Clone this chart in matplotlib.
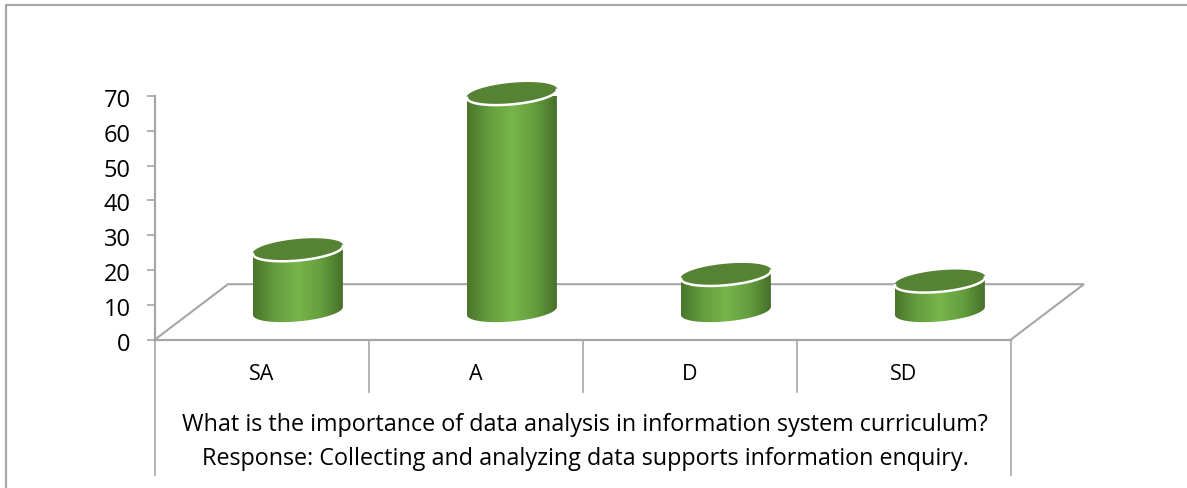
import numpy as np
import matplotlib
matplotlib.use('Agg')
import matplotlib.pyplot as plt
from matplotlib.colors import LinearSegmentedColormap
from matplotlib.lines import Line2D
from matplotlib.patches import PathPatch
from matplotlib.path import Path
from matplotlib.transforms import ScaledTranslation

plt.rcParams['font.family'] = ['Open Sans', 'DejaVu Sans']

# Data
categories = ['SA', 'A', 'D', 'SD']
values = [17.5, 62.4, 10.4, 8.5]
y_ticks = [0, 10, 20, 30, 40, 50, 60, 70]
title_lines = ['What is the importance of data analysis in information system curriculum?',
               'Response: Collecting and analyzing data supports information enquiry.']

W, H = 1187, 488
GREY = '#a6a6a6'

fig = plt.figure(figsize=(W / 100, H / 100), dpi=100)
# axes box is the front floor edge and the value axis
ax = fig.add_axes([155 / W, (H - 339.5) / H, (1011 - 155) / W, 243.5 / H])
ax.set_xlim(0, 4)
ax.set_ylim(0, 70)

# outer frame, only top and left are visible
fig.add_artist(Line2D([6 / W, 6 / W, 1], [0, (H - 5) / H, (H - 5) / H], color=GREY, lw=1.6))

# floor in pseudo 3d
floor_dx = 0.341
floor_dy = 15.9
ax.plot([0, floor_dx, 4 + floor_dx, 4], [0, floor_dy, floor_dy, 0],
        color=GREY, lw=1.5, clip_on=False, zorder=1, solid_joinstyle='miter')

# cylinders
cmap = LinearSegmentedColormap.from_list('cyl', ['#4a752b', '#659f3f', '#78b54a', '#659f3f', '#47702a'])
grad = np.linspace(0, 1, 256).reshape(1, -1)
half_w = 0.21
tilt = 1.15
minor = 3.0
base = 8.2
offset = 0.668


def ring(cx, cy, t):
    return np.column_stack([cx + half_w * np.cos(t), cy + tilt * np.cos(t) + minor * np.sin(t)])


for i, v in enumerate(values):
    cx = i + offset
    top = base + v
    lower = np.linspace(np.pi, 2 * np.pi, 60)
    body = np.vstack([ring(cx, top, lower), ring(cx, base, lower[::-1])])
    clip = PathPatch(Path(np.vstack([body, body[:1]])), transform=ax.transData, fc='none', ec='none')
    ax.add_patch(clip)
    im = ax.imshow(grad, cmap=cmap, extent=[cx - half_w, cx + half_w, base - 5, top + 5],
                   aspect='auto', zorder=3, clip_on=True)
    im.set_clip_path(clip)
    cap = ring(cx, top, np.linspace(0, 2 * np.pi, 120))
    ax.fill(cap[:, 0], cap[:, 1], color='#568233', zorder=4, clip_on=False)
    rim = ring(cx, top, lower)
    ax.plot(rim[:, 0], rim[:, 1], color='white', lw=1.8, zorder=5, clip_on=False)

ax.set_xlim(0, 4)
ax.set_ylim(0, 70)
ax.set_aspect('auto')

# axes styling
for side in ['top', 'right']:
    ax.spines[side].set_visible(False)
ax.spines['left'].set_color(GREY)
ax.spines['left'].set_linewidth(1.6)
ax.spines['bottom'].set_color(GREY)
ax.spines['bottom'].set_linewidth(1.6)
ax.patch.set_alpha(0)
ax.set_xticks([])
ax.set_yticks(y_ticks)
ax.tick_params(axis='y', length=5.5, width=1.2, color=GREY, pad=12, labelsize=17, labelcolor='black')
# labels sit a little lower than the ticks
nudge = ScaledTranslation(0, -1.5 / 72, fig.dpi_scale_trans)
for label in ax.get_yticklabels():
    label.set_transform(label.get_transform() + nudge)

# category dividers below the floor
for i in range(len(categories) + 1):
    low = -39 if i in (0, len(categories)) else -15
    ax.plot([i, i], [0, low], color=GREY, lw=1.2, clip_on=False, zorder=1)

for i, name in enumerate(categories):
    ax.text(i + 0.5, -10.0, name, ha='center', va='center', fontsize=15.5, color='black')

ax.text(2.01, -24.7, title_lines[0], ha='center', va='center', fontsize=16.8, color='black')
ax.text(2.01, -34.3, title_lines[1], ha='center', va='center', fontsize=16.8, color='black')

fig.savefig('out.png', dpi=100)
